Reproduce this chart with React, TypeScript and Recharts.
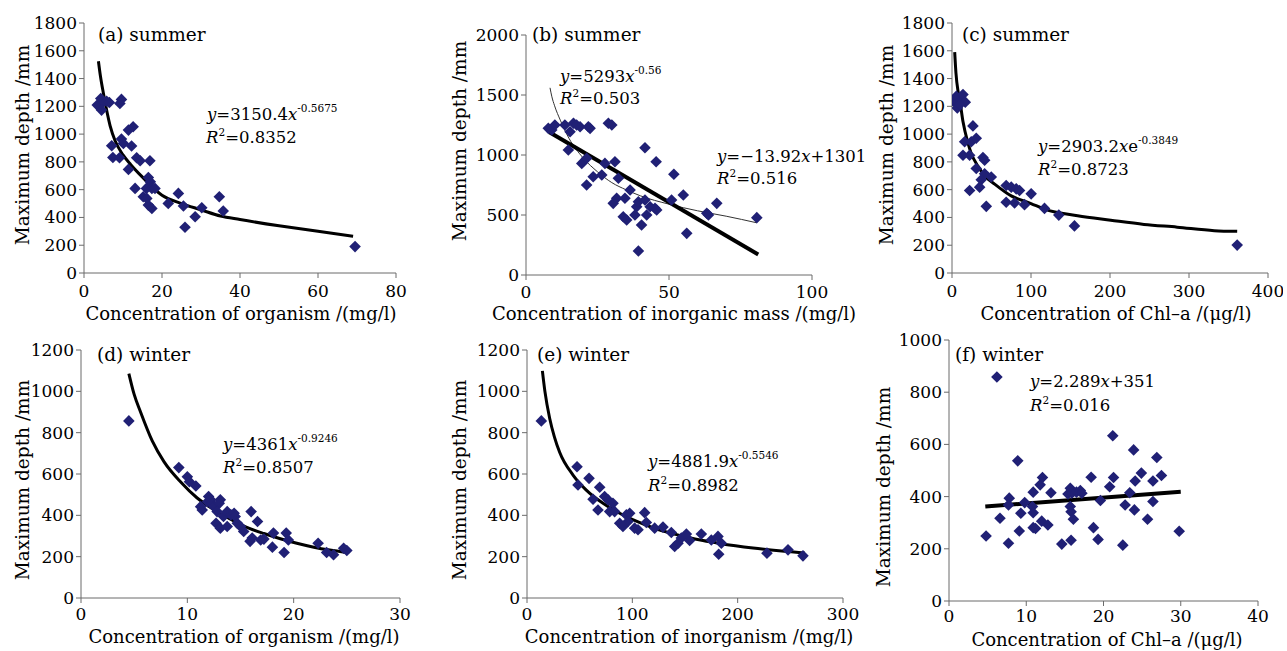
import { ComposedChart, Scatter, Line, XAxis, YAxis } from "recharts";

const FONT = "'DejaVu Serif', serif";
const MARK = "#202075";
const AXIS = "#6b6b6b";

// (a) summer: organism vs depth
const summerOrganism = [
  [3.4, 1209], [4.3, 1256], [5, 1233], [4.5, 1173], [5.8, 1237], [6.5, 1228],
  [9.2, 1220], [9.6, 1250], [11.4, 1029], [12.6, 1053], [9.6, 964], [10.1, 933],
  [7.1, 916], [7.4, 832], [9.1, 830], [12.2, 914], [13.5, 830], [14.4, 808],
  [16.9, 808], [11.4, 746], [13.1, 609], [16.5, 688], [17, 657], [16, 609],
  [17.4, 609], [18.2, 609], [15.2, 549], [16.1, 537], [16.5, 489], [17.4, 465],
  [24.2, 573], [21.6, 501], [25.5, 482], [30.2, 470], [28.5, 405], [25.9, 329],
  [34.7, 549], [35.7, 446], [69.5, 190],
];
const summerOrganismFit = [
  [3.7, 1525], [4.2, 1420], [5, 1290], [6.7, 1060], [8, 950], [10, 850], [12, 780],
  [15, 690], [20, 560], [25, 500], [30, 455], [35, 410], [40, 385], [50, 340],
  [60, 300], [69, 265],
];

// (b) summer: inorganic mass vs depth
const summerInorganic = [
  [7.8, 1222], [9, 1208], [10.1, 1250], [13.6, 1250], [16.6, 1264], [17.7, 1250],
  [18.9, 1236], [21.8, 1236], [22.4, 1222], [15.4, 1194], [28.8, 1264], [30, 1250],
  [14.8, 1042], [19.5, 930], [21.2, 972], [23.5, 819], [26.5, 833], [21.2, 750],
  [27.6, 930], [31.1, 944], [32.3, 806], [41.6, 1061], [45.5, 944], [51.7, 839],
  [36.4, 708], [31.7, 639], [30.5, 597], [34.6, 639], [34, 486], [35.2, 458],
  [38.7, 569], [39.3, 611], [38.1, 500], [41.6, 625], [43.4, 569], [42.2, 500],
  [40.4, 417], [45.1, 556], [45.7, 542], [50.9, 625], [55, 667], [56.2, 347],
  [63.2, 514], [63.8, 500], [66.7, 597], [80.7, 478], [39.3, 200],
];
const summerInorganicPower = [
  [8.4, 1560], [9, 1490], [10, 1410], [12, 1290], [15, 1140], [20, 975], [25, 860],
  [30, 770], [35, 710], [40, 660], [50, 590], [60, 535], [70, 490], [80.7, 435],
];
const summerInorganicLinear = [[8.2, 1189], [81.2, 171]];

// (c) summer: Chl-a vs depth
const summerChl = [
  [2.5, 1236], [5.5, 1273], [6.7, 1188], [11.8, 1248], [13.9, 1285], [16.8, 1230],
  [9.7, 1212], [26.5, 1059], [16, 945], [24.4, 945], [30.7, 970], [13.9, 848],
  [22.3, 848], [39.2, 831], [41.3, 812], [30.7, 752], [41.3, 715], [49.7, 691],
  [37, 671], [22.3, 594], [35, 618], [43.4, 480], [68.6, 630], [75, 618],
  [81.3, 606], [85.5, 594], [68.6, 509], [79.2, 504], [91.8, 492], [100.2, 570],
  [117.1, 465], [135.2, 417], [155, 339], [361, 201],
];
const summerChlFit = [
  [3.4, 1590], [5, 1440], [7.6, 1310], [9.7, 1250], [13.9, 1090], [20, 940],
  [24.4, 860], [32.8, 770], [41.3, 700], [54, 640], [75, 555], [100, 500],
  [117, 460], [159, 412], [201, 380], [243, 350], [285, 330], [332, 305], [361, 300],
];

// (d) winter: organism vs depth
const winterOrganism = [
  [4.5, 857], [9.2, 631], [10, 587], [10.2, 563], [10.8, 542], [11.25, 442],
  [11.4, 426], [12, 491], [12.2, 475], [11.9, 466], [12.3, 458], [12.5, 442],
  [13.1, 475], [13, 458], [12.8, 418], [12.7, 362], [13.1, 338], [13.75, 346],
  [13.4, 394], [13.75, 418], [14.1, 402], [14.4, 410], [14.5, 394], [14.7, 362],
  [15, 346], [15.3, 322], [16, 418], [16.6, 370], [15.9, 274], [16.1, 290],
  [16.9, 281], [17.2, 285], [18.1, 314], [18, 246], [19.3, 314], [19.5, 281],
  [19.1, 220], [22.3, 265], [23.1, 220], [23.75, 209], [24.7, 241], [25, 230],
];
const winterOrganismFit = [
  [4.5, 1086], [5, 985], [5.6, 900], [6.7, 760], [7.8, 660], [9.4, 560], [10.9, 485],
  [12.5, 428], [14.1, 380], [15.6, 342], [17.2, 312], [18.75, 287], [20.3, 265],
  [21.9, 246], [23.4, 232], [25, 220],
];

// (e) winter: inorganism vs depth
const winterInorganism = [
  [13.6, 857], [47.5, 635], [48.4, 547], [58.9, 579], [69, 536], [62.7, 478],
  [67.4, 426], [73.7, 491], [76.9, 475], [81.6, 458], [78.5, 418], [83.2, 418],
  [88, 362], [94.3, 402], [97.5, 410], [95.9, 370], [91.1, 346], [102.2, 338],
  [105.4, 330], [111.7, 413], [113.3, 365], [121.2, 338], [129.1, 343], [137, 317],
  [140.2, 249], [143.4, 265], [146.5, 290], [151.3, 310], [154.4, 278], [165.5, 310],
  [175, 281], [181.3, 298], [184.5, 265], [182, 212], [227.8, 217], [247.8, 233],
  [262, 204],
];
const winterInorganismFit = [
  [14.6, 1099], [17, 1000], [21.5, 870], [26, 780], [31, 705], [43.7, 595],
  [56.3, 522], [72.2, 458], [88, 410], [103.8, 372], [119.6, 340], [135.4, 315],
  [151.3, 295], [167, 278], [183, 264], [214.6, 242], [246, 226], [263.6, 218],
];

// (f) winter: Chl-a vs depth
const winterChl = [
  [6.2, 858], [4.8, 249], [6.6, 317], [7.8, 394], [7.7, 368], [7.7, 221], [8.9, 537],
  [9.3, 336], [9.8, 377], [9.1, 268], [10.8, 362], [10.9, 338], [10.9, 417],
  [10.9, 281], [11.2, 278], [11.8, 445], [12.1, 473], [12, 306], [12.8, 291],
  [13.2, 415], [14.6, 218], [15.4, 410], [15.7, 432], [15.9, 413], [15.7, 362],
  [15.8, 342], [16.1, 313], [15.8, 233], [16.5, 417], [17, 423], [17.2, 413],
  [18.4, 474], [18.7, 281], [19.3, 236], [19.6, 385], [20.8, 438], [21.3, 473],
  [21.2, 633], [22.8, 368], [22.5, 214], [23.4, 415], [23.9, 579], [24.1, 460],
  [24, 349], [24.9, 490], [25.7, 313], [26.4, 381], [26.4, 460], [26.9, 550],
  [27.5, 481], [29.8, 267],
];
const winterChlLinear = [[4.7, 362], [30, 419]];

const toPts = (rows: number[][]) => rows.map(([x, y]) => ({ x, y }));

const Diamond = (props: any) => {
  const { cx, cy } = props;
  if (cx == null || cy == null) return null;
  const r = 5.8;
  return (
    <path
      d={`M${cx},${cy - r}L${cx + r},${cy}L${cx},${cy + r}L${cx - r},${cy}Z`}
      fill={MARK}
    />
  );
};

interface Fit {
  data: number[][];
  width: number;
  color?: string;
  type?: "monotone" | "linear";
}

interface PanelProps {
  left: number;
  top: number;
  width: number;
  plotBottom: number; // y of x axis inside the chart box
  margin: { top: number; right: number };
  yWidth: number;
  tickMargin: number;
  xDomain: [number, number];
  xTicks: number[];
  yDomain: [number, number];
  yTicks: number[];
  points: number[][];
  fits: Fit[];
}

const tickStyle = { fontFamily: FONT, fontSize: 17, fill: "#000" };
const CHART_H = 310;

function Panel(p: PanelProps) {
  return (
    <div style={{ position: "absolute", left: p.left, top: p.top }}>
      <ComposedChart
        width={p.width}
        height={CHART_H}
        margin={{ top: p.margin.top, right: p.margin.right, bottom: 0, left: 0 }}
      >
        <XAxis
          type="number"
          dataKey="x"
          domain={p.xDomain}
          ticks={p.xTicks}
          interval={0}
          allowDataOverflow
          height={CHART_H - p.plotBottom}
          tick={tickStyle}
          tickSize={5}
          tickMargin={p.tickMargin}
          stroke={AXIS}
        />
        <YAxis
          type="number"
          dataKey="y"
          domain={p.yDomain}
          ticks={p.yTicks}
          interval={0}
          allowDataOverflow
          width={p.yWidth}
          tick={tickStyle}
          tickSize={5}
          tickMargin={2}
          stroke={AXIS}
        />
        <Scatter
          data={toPts(p.points)}
          shape={<Diamond />}
          isAnimationActive={false}
        />
        {p.fits.map((f, i) => (
          <Line
            key={i}
            data={toPts(f.data)}
            dataKey="y"
            type={f.type ?? "monotone"}
            stroke={f.color ?? "#000"}
            strokeWidth={f.width}
            dot={false}
            activeDot={false}
            isAnimationActive={false}
          />
        ))}
      </ComposedChart>
    </div>
  );
}

const range = (a: number, b: number, s: number) => {
  const out: number[] = [];
  for (let v = a; v <= b; v += s) out.push(v);
  return out;
};

const txt = { fontFamily: FONT, fill: "#000" } as const;

function Eq({ x, y, main, sup }: { x: number; y: number; main: React.ReactNode; sup?: string }) {
  return (
    <text x={x} y={y} fontSize={16.5} {...txt}>
      {main}
      {sup && (
        <tspan fontSize={10.5} dy={-8}>
          {sup}
        </tspan>
      )}
    </text>
  );
}

function R2({ x, y, value }: { x: number; y: number; value: string }) {
  return (
    <text x={x} y={y} fontSize={16.5} {...txt}>
      <tspan fontStyle="italic">R</tspan>
      <tspan fontSize={10.5} dy={-7}>2</tspan>
      <tspan dy={7}>={value}</tspan>
    </text>
  );
}

function YTitle({ x, cy }: { x: number; cy: number }) {
  return (
    <text
      x={x}
      y={cy}
      transform={`rotate(-90 ${x} ${cy})`}
      textAnchor="middle"
      fontSize={18.5}
      {...txt}
    >
      Maximum depth /mm
    </text>
  );
}

function XTitle({ cx, y, label }: { cx: number; y: number; label: string }) {
  return (
    <text x={cx} y={y} textAnchor="middle" fontSize={18} {...txt}>
      {label}
    </text>
  );
}

const It = ({ c }: { c: string }) => <tspan fontStyle="italic">{c}</tspan>;

export default function App() {
  return (
    <div
      style={{
        position: "absolute",
        left: 0,
        top: 0,
        width: 1287,
        height: 651,
        background: "#fff",
        overflow: "hidden",
      }}
    >
      <Panel
        left={0} top={0} width={410} plotBottom={273}
        margin={{ top: 23, right: 14 }} yWidth={84} tickMargin={7}
        xDomain={[0, 80]} xTicks={[0, 20, 40, 60, 80]}
        yDomain={[0, 1800]} yTicks={range(0, 1800, 200)}
        points={summerOrganism}
        fits={[{ data: summerOrganismFit, width: 3 }]}
      />
      <Panel
        left={442} top={0} width={390} plotBottom={275}
        margin={{ top: 35, right: 20 }} yWidth={84} tickMargin={6}
        xDomain={[0, 100]} xTicks={[0, 50, 100]}
        yDomain={[0, 2000]} yTicks={range(0, 2000, 500)}
        points={summerInorganic}
        fits={[
          { data: summerInorganicPower, width: 1, color: "#333" },
          { data: summerInorganicLinear, width: 4, type: "linear" },
        ]}
      />
      <Panel
        left={868} top={0} width={415} plotBottom={273}
        margin={{ top: 23, right: 15 }} yWidth={84} tickMargin={7}
        xDomain={[0, 400]} xTicks={[0, 100, 200, 300, 400]}
        yDomain={[0, 1800]} yTicks={range(0, 1800, 200)}
        points={summerChl}
        fits={[{ data: summerChlFit, width: 3 }]}
      />
      <Panel
        left={0} top={325} width={420} plotBottom={273}
        margin={{ top: 25, right: 20 }} yWidth={81} tickMargin={5}
        xDomain={[0, 30]} xTicks={[0, 10, 20, 30]}
        yDomain={[0, 1200]} yTicks={range(0, 1200, 200)}
        points={winterOrganism}
        fits={[{ data: winterOrganismFit, width: 3 }]}
      />
      <Panel
        left={442} top={325} width={420} plotBottom={273}
        margin={{ top: 25, right: 19 }} yWidth={85} tickMargin={5}
        xDomain={[0, 300]} xTicks={[0, 100, 200, 300]}
        yDomain={[0, 1200]} yTicks={range(0, 1200, 200)}
        points={winterInorganism}
        fits={[{ data: winterInorganismFit, width: 3 }]}
      />
      <Panel
        left={868} top={325} width={410} plotBottom={276}
        margin={{ top: 15, right: 20 }} yWidth={81} tickMargin={4}
        xDomain={[0, 40]} xTicks={[0, 10, 20, 30, 40]}
        yDomain={[0, 1000]} yTicks={range(0, 1000, 200)}
        points={winterChl}
        fits={[{ data: winterChlLinear, width: 4, type: "linear" }]}
      />

      <svg
        width={1287}
        height={651}
        style={{ position: "absolute", left: 0, top: 0, pointerEvents: "none" }}
      >
        {/* panel labels */}
        <text x={98} y={41} fontSize={18.5} {...txt}>(a) summer</text>
        <text x={532} y={41} fontSize={18.5} {...txt}>(b) summer</text>
        <text x={962} y={41} fontSize={18.5} {...txt}>(c) summer</text>
        <text x={97} y={361} fontSize={18.5} {...txt}>(d) winter</text>
        <text x={537} y={361} fontSize={18.5} {...txt}>(e) winter</text>
        <text x={955} y={361} fontSize={18.5} {...txt}>(f) winter</text>

        {/* fit equations */}
        <Eq x={207} y={120} main={<><It c="y" />=3150.4<It c="x" /></>} sup="-0.5675" />
        <R2 x={206} y={143} value="0.8352" />
        <Eq x={560} y={82} main={<><It c="y" />=5293<It c="x" /></>} sup="-0.56" />
        <R2 x={560} y={104} value="0.503" />
        <Eq x={717} y={162} main={<><It c="y" />=−13.92<It c="x" />+1301</>} />
        <R2 x={717} y={184} value="0.516" />
        <Eq x={1038} y={152} main={<><It c="y" />=2903.2<It c="x" />e</>} sup="-0.3849" />
        <R2 x={1038} y={175} value="0.8723" />
        <Eq x={223} y={450} main={<><It c="y" />=4361<It c="x" /></>} sup="-0.9246" />
        <R2 x={223} y={473} value="0.8507" />
        <Eq x={648} y={467} main={<><It c="y" />=4881.9<It c="x" /></>} sup="-0.5546" />
        <R2 x={648} y={491} value="0.8982" />
        <Eq x={1030} y={387} main={<><It c="y" />=2.289<It c="x" />+351</>} />
        <R2 x={1030} y={411} value="0.016" />

        {/* axis titles */}
        <YTitle x={29} cy={145} />
        <YTitle x={466} cy={141} />
        <YTitle x={893} cy={145} />
        <YTitle x={29} cy={480} />
        <YTitle x={466} cy={480} />
        <YTitle x={890} cy={487} />
        <XTitle cx={241} y={320} label="Concentration of organism /(mg/l)" />
        <XTitle cx={674} y={320} label="Concentration of inorganic mass /(mg/l)" />
        <XTitle cx={1116} y={320} label="Concentration of Chl–a /(μg/l)" />
        <XTitle cx={244} y={643} label="Concentration of organism /(mg/l)" />
        <XTitle cx={689} y={643} label="Concentration of inorganism /(mg/l)" />
        <XTitle cx={1107} y={646} label="Concentration of Chl–a /(μg/l)" />
      </svg>
    </div>
  );
}
